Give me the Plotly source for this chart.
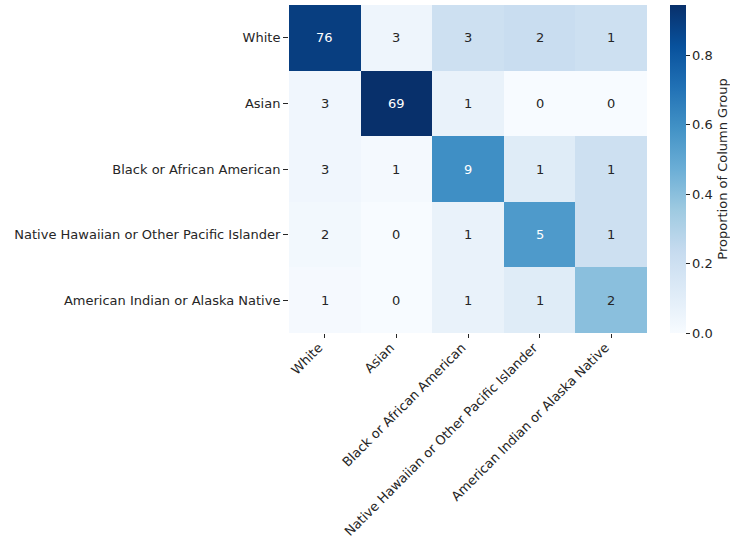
import numpy as np
import plotly.graph_objects as go

groups = [
    "White",
    "Asian",
    "Black or African American",
    "Native Hawaiian or Other Pacific Islander",
    "American Indian or Alaska Native",
]

# counts[row][col]
counts = [
    [76, 3, 3, 2, 1],
    [3, 69, 1, 0, 0],
    [3, 1, 9, 1, 1],
    [2, 0, 1, 5, 1],
    [1, 0, 1, 1, 2],
]

colorbar_ticks = [0.0, 0.2, 0.4, 0.6, 0.8]

counts_arr = np.array(counts, dtype=float)
col_prop = counts_arr / counts_arr.sum(axis=0, keepdims=True)

blues = [
    [0.0, "#f7fbff"], [0.125, "#deebf7"], [0.25, "#c6dbef"],
    [0.375, "#9ecae1"], [0.5, "#6baed6"], [0.625, "#4292c6"],
    [0.75, "#2171b5"], [0.875, "#08519c"], [1.0, "#08306b"],
]

font = "DejaVu Sans, sans-serif"
ink = "#262626"
fs = 13

fig = go.Figure(
    go.Heatmap(
        z=col_prop,
        x=groups,
        y=groups,
        colorscale=blues,
        zmin=0,
        zmax=col_prop.max(),
        hoverinfo="skip",
        colorbar=dict(
            x=1.064,
            xanchor="left",
            y=0.5,
            yanchor="middle",
            len=1.0,
            lenmode="fraction",
            thickness=16,
            outlinewidth=0,
            xpad=0,
            ypad=0,
            tickvals=colorbar_ticks,
            ticktext=[f"{v:.1f}" for v in colorbar_ticks],
            ticks="outside",
            ticklen=4,
            tickwidth=1,
            tickcolor=ink,
            tickfont=dict(family=font, size=fs, color=ink),
            title=dict(
                text="Proportion of Column Group",
                side="right",
                font=dict(family=font, size=fs, color=ink),
            ),
        ),
    )
)

annotations = []
for i, row in enumerate(groups):
    for j, col in enumerate(groups):
        p = col_prop[i, j]
        annotations.append(
            dict(
                x=col,
                y=row,
                xref="x",
                yref="y",
                text=str(counts[i][j]),
                showarrow=False,
                font=dict(family=font, size=fs, color="white" if p > 0.5 else ink),
            )
        )

fig.update_layout(
    width=730,
    height=539,
    margin=dict(l=289, r=83, t=5, b=206, autoexpand=False),
    plot_bgcolor="white",
    paper_bgcolor="white",
    annotations=annotations,
    font=dict(family=font, size=fs, color=ink),
)
fig.update_xaxes(
    tickangle=-45,
    ticks="outside",
    ticklen=4,
    tickcolor=ink,
    showgrid=False,
    zeroline=False,
    automargin=False,
    ticklabelshift=-6,
    ticklabelstandoff=-3,
    tickfont=dict(family=font, size=fs, color=ink),
)
fig.update_yaxes(
    autorange="reversed",
    ticks="outside",
    ticklen=5,
    tickcolor=ink,
    showgrid=False,
    zeroline=False,
    automargin=False,
    tickfont=dict(family=font, size=fs, color=ink),
)

fig.write_html("out.html")
